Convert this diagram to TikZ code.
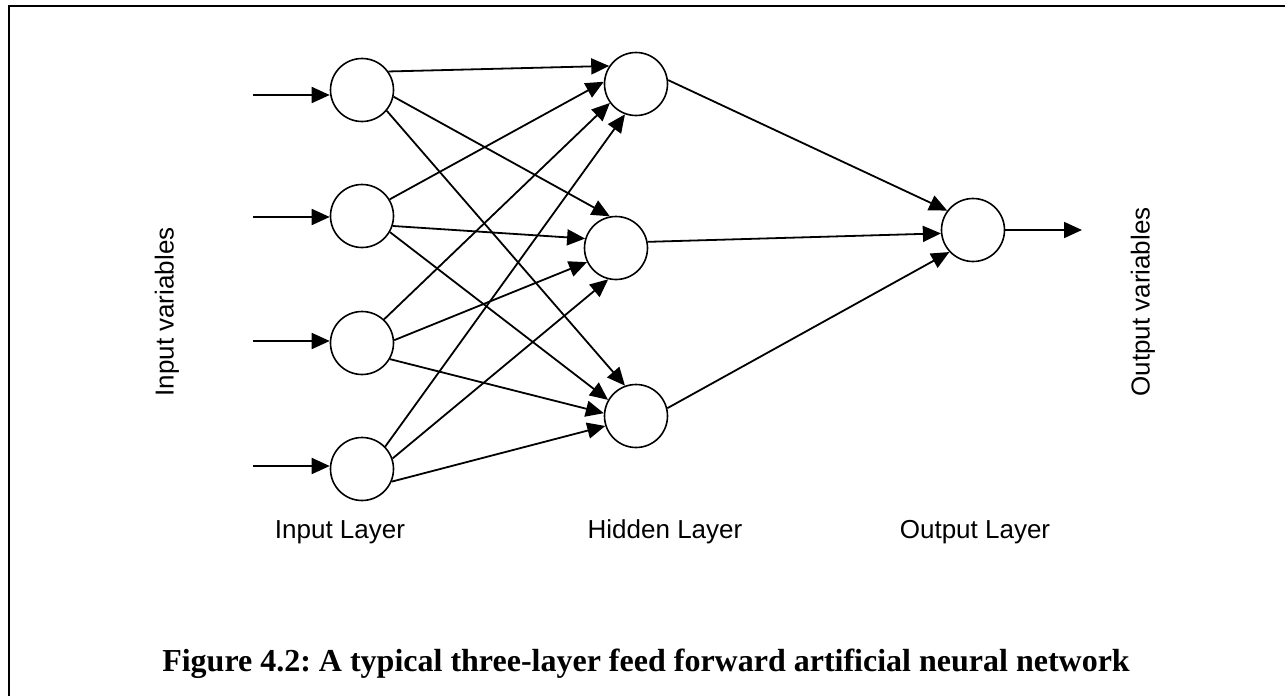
\documentclass[tikz,border=0pt]{standalone}
\usepackage{fontspec}
\setmainfont{Liberation Serif}
\newfontfamily\labelfont{Liberation Sans}
\usetikzlibrary{arrows.meta}

\begin{document}
\begin{tikzpicture}[x=1pt, y=-1pt,
    neuron/.style={circle, draw, line width=1.6pt, minimum size=63pt, inner sep=0pt},
    link/.style={line width=1.8pt, -{Triangle[length=18pt, width=16pt]}},
    lbl/.style={font=\labelfont\fontsize{26}{30}\selectfont, inner sep=0pt},
    caption/.style={font=\bfseries\fontsize{32}{38}\selectfont\frenchspacing, inner sep=0pt}]

  \useasboundingbox (0,0) rectangle (1285,696);

  % frame (open on the right and bottom)
  \draw[line width=2.6pt] (9,700) -- (9,6) -- (1290,6);

  % input layer
  \node[neuron] (I1) at (362,90) {};
  \node[neuron] (I2) at (362,216) {};
  \node[neuron] (I3) at (362,343) {};
  \node[neuron] (I4) at (362,469) {};

  % hidden layer
  \node[neuron] (H1) at (636,84) {};
  \node[neuron] (H2) at (616,248) {};
  \node[neuron] (H3) at (636,416) {};

  % output layer
  \node[neuron] (O) at (973,230) {};

  % inputs
  \coordinate (in1) at (253,95);
  \coordinate (in2) at (253,217);
  \coordinate (in3) at (253,341);
  \coordinate (in4) at (253,466);
  \foreach \k in {1,2,3,4}
    \draw[link] (in\k) -- (in\k -| I\k.west);

  % input -> hidden
  \draw[link] (I1.35)  -- (H1.146);
  \draw[link] (I1.-12) -- (H2.101);
  \draw[link] (I1.-40) -- (H3.110);
  \draw[link] (I2.31)  -- (H1.176);
  \draw[link] (I2.-18) -- (H2.163);
  \draw[link] (I2.-30) -- (H3.150);
  \draw[link] (I3.47)  -- (H1.216);
  \draw[link] (I3.5)   -- (H2.206);
  \draw[link] (I3.-30) -- (H3.175);
  \draw[link] (I4.44)  -- (H1.250);
  \draw[link] (I4.19)  -- (H2.256);
  \draw[link] (I4.-23) -- (H3.198);

  % hidden -> output
  \draw[link] (H1.7)  -- (O.143);
  \draw[link] (H2.11) -- (O.186);
  \draw[link] (H3.14) -- (O.223);

  % output
  \coordinate (out) at (1082,230);
  \draw[link] (O.east) -- (out);

  % labels
  \node[lbl, rotate=90] (invars) at (167,312) {Input variables};
  \node[lbl, rotate=90] (outvars) at (1143,302) {Output variables};
  \node[lbl, anchor=base] (inlayer) at (340,538) {Input Layer};
  \node[lbl, anchor=base] (hidlayer) at (665,538) {Hidden Layer};
  \node[lbl, anchor=base] (outlayer) at (975,538) {Output Layer};

  \node[caption, anchor=base] (cap) at (646,671)
    {Figure 4.2: A typical three-layer feed forward artificial neural network};
\end{tikzpicture}
\end{document}
